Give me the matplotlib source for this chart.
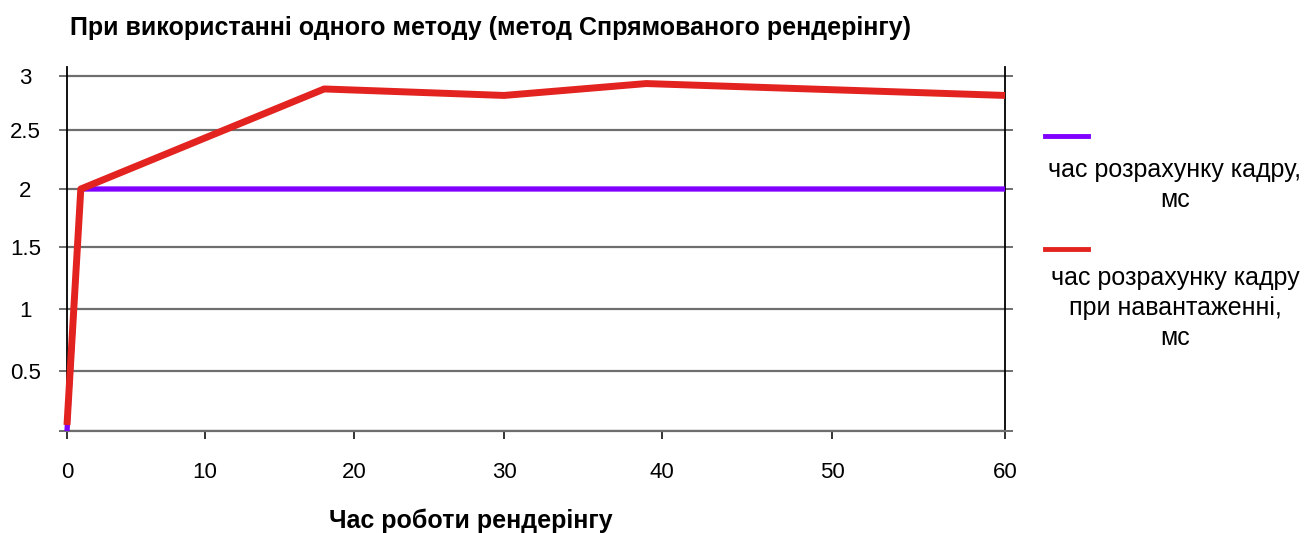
import numpy as np
import matplotlib
matplotlib.use("Agg")
import matplotlib.pyplot as plt
from matplotlib.lines import Line2D

plt.rcParams['font.family'] = ['Liberation Sans', 'DejaVu Sans']

# ---------------- data ----------------
title = "При використанні одного методу (метод Спрямованого рендерінгу)"
xlabel = "Час роботи рендерінгу"
x_ticks = [0, 10, 20, 30, 40, 50, 60]
y_ticks = [0, 0.5, 1, 1.5, 2, 2.5, 3]
y_ticklabels = ["", "0.5", "1", "1.5", "2", "2.5", "3"]

series1_label = "час розрахунку кадру,\nмс"
series1_x = [0, 1, 60]
series1_y = [0.0, 2.0, 2.0]

series2_label = "час розрахунку кадру\nпри навантаженні,\nмс"
series2_x = [0, 1, 18, 30, 39, 60]
series2_y = [0.05, 2.0, 2.88, 2.82, 2.93, 2.82]

color1 = "#7F00FF"
color2 = "#E3231F"

# ---------------- layout ----------------
W, H = 1308, 533
# pixel positions of the (non-uniformly spaced) tick marks in the original
x_tick_px = [67, 205, 354, 504, 662, 832, 1005]
y_tick_px = [H - p for p in [431, 371, 309, 247, 189, 130, 76]]
ax_left, ax_right, ax_top, ax_bottom = 67, 1005, 67, 431


def piecewise(vals, pos):
    vals = np.asarray(vals, float)
    pos = np.asarray(pos, float)
    s_lo = (pos[1] - pos[0]) / (vals[1] - vals[0])
    s_hi = (pos[-1] - pos[-2]) / (vals[-1] - vals[-2])

    def fwd(x):
        x = np.asarray(x, float)
        y = np.interp(x, vals, pos)
        y = np.where(x < vals[0], pos[0] + (x - vals[0]) * s_lo, y)
        y = np.where(x > vals[-1], pos[-1] + (x - vals[-1]) * s_hi, y)
        return y

    def inv(y):
        y = np.asarray(y, float)
        x = np.interp(y, pos, vals)
        x = np.where(y < pos[0], vals[0] + (y - pos[0]) / s_lo, x)
        x = np.where(y > pos[-1], vals[-1] + (y - pos[-1]) / s_hi, x)
        return x
    return fwd, inv


fig = plt.figure(figsize=(W / 100, H / 100), dpi=100)
ax = fig.add_axes([ax_left / W, (H - ax_bottom) / H,
                   (ax_right - ax_left) / W, (ax_bottom - ax_top) / H])

xf, xi = piecewise(x_ticks, x_tick_px)
yf, yi = piecewise(y_ticks, y_tick_px)
ax.set_xscale('function', functions=(xf, xi))
ax.set_yscale('function', functions=(yf, yi))
ax.set_xlim(x_ticks[0], x_ticks[-1])
ax.set_ylim(y_ticks[0], float(yi(H - ax_top)))

grid_c = "#6e6e6e"
ax.set_yticks(y_ticks)
ax.set_yticklabels(y_ticklabels)
ax.set_xticks(x_ticks)
ax.set_xticklabels([str(v) for v in x_ticks])
ax.minorticks_off()
ax.grid(axis='y', color=grid_c, lw=1.6)
ax.set_axisbelow(True)

ax.tick_params(axis='y', left=True, right=True, direction='out', length=6,
               width=1.4, color=grid_c, labelsize=16, pad=24)
for lab in ax.get_yticklabels():
    lab.set_horizontalalignment('center')
ax.tick_params(axis='x', bottom=True, direction='out', length=6, width=1.4,
               color="#333333", labelsize=16, pad=16)

ax.spines['top'].set_visible(False)
ax.spines['bottom'].set_color(grid_c)
ax.spines['bottom'].set_linewidth(1.6)
for s in ['left', 'right']:
    ax.spines[s].set_color('black')
    ax.spines[s].set_linewidth(1.3)

ax.plot(series1_x, series1_y, color=color1, lw=3.8, clip_on=False, zorder=3,
        solid_capstyle='butt')
ax.plot(series2_x, series2_y, color=color2, lw=5.0, clip_on=False, zorder=4,
        solid_capstyle='butt')

# title and x label
fig.text(491 / W, 1 - 28 / H, title, ha='center', va='center',
         fontsize=18, fontweight='bold')
fig.text(471 / W, 1 - 521 / H, xlabel, ha='center', va='center',
         fontsize=18, fontweight='bold')

# legend (handle above centered text)
fig.add_artist(Line2D([1045 / W, 1088 / W], [1 - 136 / H, 1 - 136 / H],
                      color=color1, lw=3.5, transform=fig.transFigure))
fig.text(1175 / W, 1 - 185 / H, series1_label, ha='center', va='center',
         fontsize=18, linespacing=1.3)
fig.add_artist(Line2D([1045 / W, 1088 / W], [1 - 249 / H, 1 - 249 / H],
                      color=color2, lw=3.5, transform=fig.transFigure))
fig.text(1175 / W, 1 - 308 / H, series2_label, ha='center', va='center',
         fontsize=18, linespacing=1.3)

fig.savefig("out.png", dpi=100)
